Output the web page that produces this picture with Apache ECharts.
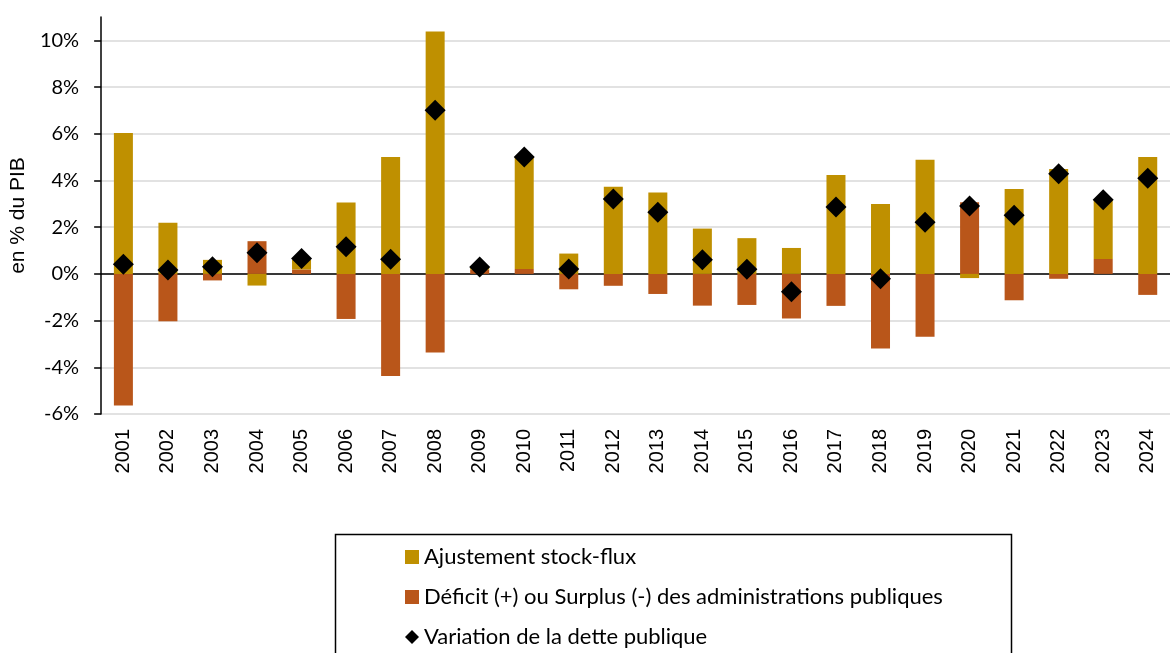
<!DOCTYPE html>
<html>
<head>
<meta charset="utf-8">
<script src="https://cdn.jsdelivr.net/npm/echarts@6/dist/echarts.min.js"></script>
<style>
html, body { margin: 0; padding: 0; background: #fff; }
#chartBody { width: 1170px; height: 653px; }
</style>
</head>
<body>
<div id="chartBody"></div>
<script>
// données (en % du PIB)
var annees = ['2001', '2002', '2003', '2004', '2005', '2006', '2007', '2008', '2009', '2010', '2011', '2012',
              '2013', '2014', '2015', '2016', '2017', '2018', '2019', '2020', '2021', '2022', '2023', '2024'];
var deficit = [-5.64, -2.03, -0.28, 1.40, 0.19, -1.93, -4.37, -3.37, 0.18, 0.21, -0.66, -0.51,
               -0.86, -1.36, -1.33, -1.91, -1.37, -3.19, -2.69, 3.07, -1.13, -0.21, 0.64, -0.90];
var stockFlux = [6.03, 2.19, 0.60, -0.50, 0.41, 3.06, 5.00, 10.38, 0.12, 4.79, 0.87, 3.73,
                 3.49, 1.94, 1.53, 1.11, 4.23, 2.99, 4.89, -0.18, 3.63, 4.49, 2.52, 5.00];
var varDette = [0.41, 0.17, 0.31, 0.90, 0.66, 1.16, 0.63, 7.01, 0.29, 5.00, 0.21, 3.21,
                2.64, 0.61, 0.20, -0.77, 2.86, -0.21, 2.21, 2.91, 2.51, 4.29, 3.17, 4.10];
var yTicks = [-6, -4, -2, 0, 2, 4, 6, 8, 10];

var nomStock = 'Ajustement stock-flux';
var nomDeficit = 'Déficit (+) ou Surplus (-) des administrations publiques';
var nomDette = 'Variation de la dette publique';

function getDette(){
    var dom = document.getElementById("chartBody");
    var myChart = echarts.init(dom);
    var option = null;
    option = {
        animation: false,
        grid: {
            left: 100,
            right: -8,
            top: 17,
            bottom: 239
        },
        legend: {
            orient: 'vertical',
            left: 400,
            top: 541,
            height: 200,
            itemWidth: 14,
            itemHeight: 14,
            itemGap: 18,
            data: [
                {name: nomStock, icon: 'rect'},
                {name: nomDeficit, icon: 'rect'},
                {name: nomDette, icon: 'diamond'}
            ],
            textStyle: {
                fontFamily: 'Lato',
                fontSize: 22,
                lineHeight: 22,
                color: '#000'
            }
        },
        graphic: [{
            type: 'rect',
            z: -1,
            shape: {x: 335.5, y: 534.5, width: 676, height: 200},
            style: {fill: 'none', stroke: '#000', lineWidth: 1.5}
        }],
        xAxis: [
            {
                // étiquettes des années en bas
                type: 'category',
                data: annees,
                position: 'bottom',
                axisLine: {show: false, onZero: false},
                axisTick: {show: false},
                axisLabel: {
                    rotate: 90,
                    margin: 15,
                    fontFamily: 'Liberation Sans',
                    fontSize: 20,
                    color: '#000'
                }
            },
            {
                // axe horizontal sur le zéro
                type: 'category',
                data: annees,
                position: 'top',
                axisLine: {onZero: true, lineStyle: {color: '#000', width: 1.5}},
                axisTick: {inside: true, length: 7, lineStyle: {color: '#000', width: 1.5}},
                axisLabel: {show: false}
            }
        ],
        yAxis: {
            type: 'value',
            min: -6,
            max: 11,
            interval: 2,
            name: 'en % du PIB',
            nameLocation: 'middle',
            nameGap: 59,
            nameTextStyle: {
                fontFamily: 'Liberation Sans',
                fontSize: 21,
                color: '#000'
            },
            axisLine: {show: true, lineStyle: {color: '#000', width: 1.5}},
            axisTick: {show: true, length: 7, customValues: yTicks, lineStyle: {color: '#000', width: 1.5}},
            axisLabel: {
                customValues: yTicks,
                margin: 22,
                fontFamily: 'Lato',
                fontSize: 20,
                color: '#000',
                formatter: function (v) { return v + '%'; }
            },
            splitLine: {
                show: true,
                lineStyle: {color: '#d9d9d9', width: 1.5}
            }
        },
        series: [
            {
                name: nomDeficit,
                type: 'bar',
                stack: 'dette',
                barWidth: 19,
                itemStyle: {color: '#B9561A'},
                data: deficit
            },
            {
                name: nomStock,
                type: 'bar',
                stack: 'dette',
                barWidth: 19,
                itemStyle: {color: '#BF9000'},
                data: stockFlux
            },
            {
                name: nomDette,
                type: 'scatter',
                symbol: 'diamond',
                symbolSize: 21,
                z: 5,
                itemStyle: {color: '#000', opacity: 1},
                data: varDette
            }
        ]
    };
    if (option && typeof option === "object") {
        myChart.setOption(option, true);
    }
}
getDette();
</script>
</body>
</html>
